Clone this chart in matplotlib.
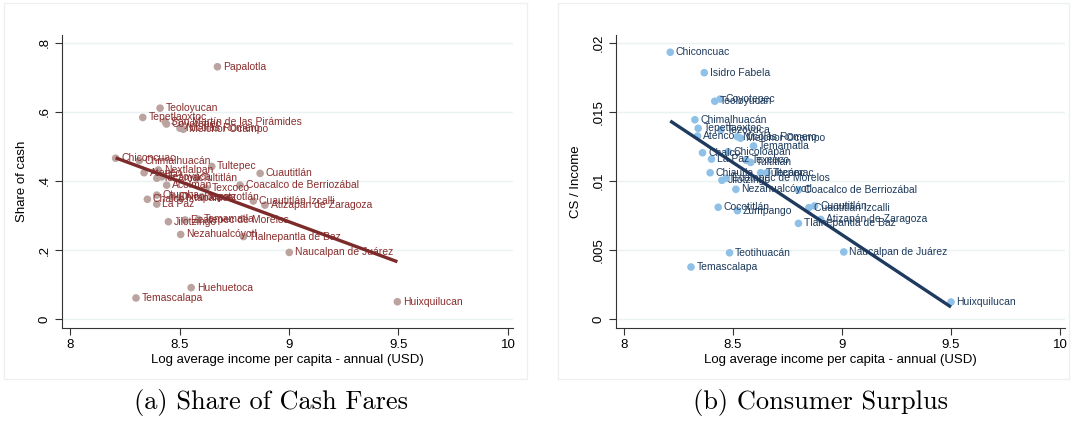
import matplotlib.pyplot as plt
from matplotlib.patches import Rectangle

plt.rcParams['font.family'] = ['Liberation Sans', 'DejaVu Sans']

# panel (a): share of cash fares
names_a = ["Papalotla", "Teoloyucan", "Tepetlaoxtoc", "San Martín de las Pirámides",
           "Coyotepec", "Nicolás Romero", "Melchor Ocampo", "Chiconcuac", "Chimalhuacán",
           "Atenco", "Nextlalpan", "Tezoyuca", "Tultepec", "Cuautitlán", "Tecámac",
           "Tultitlán", "Acolman", "Coacalco de Berriozábal", "Texcoco", "Otumba",
           "Chicoloapan", "Ixtapaluca", "Tepotzotlán", "Cuautitlán Izcalli", "Chalco",
           "La Paz", "Atizapán de Zaragoza", "Jilotzingo", "Ecatepec de Morelos",
           "Temamatla", "Nezahualcóyotl", "Tlalnepantla de Baz", "Naucalpan de Juárez",
           "Huehuetoca", "Temascalapa", "Huixquilucan"]
income_a = [8.673, 8.411, 8.332, 8.434, 8.44, 8.502, 8.517, 8.208, 8.316,
            8.338, 8.403, 8.419, 8.647, 8.868, 8.396,
            8.578, 8.441, 8.776, 8.621, 8.396,
            8.47, 8.502, 8.601, 8.837, 8.353,
            8.396, 8.890, 8.449, 8.525,
            8.586, 8.505, 8.792, 9.001,
            8.553, 8.301, 9.495]
cash_a = [0.731, 0.611, 0.584, 0.572, 0.565, 0.553, 0.550, 0.466, 0.459,
          0.424, 0.432, 0.412, 0.442, 0.422, 0.408,
          0.408, 0.388, 0.388, 0.379, 0.359,
          0.354, 0.351, 0.354, 0.342, 0.347,
          0.333, 0.330, 0.282, 0.287,
          0.289, 0.245, 0.239, 0.193,
          0.091, 0.061, 0.050]
fit_x_a = [8.208, 9.495]
fit_y_a = [0.467, 0.166]

# panel (b): consumer surplus over income
names_b = ["Chiconcuac", "Isidro Fabela", "Coyotepec", "Teoloyucan", "Chimalhuacán",
           "Tepetlaoxtoc", "Tezoyuca", "Atenco", "Nicolás Romero", "Melchor Ocampo",
           "Temamatla", "Chalco", "Chicoloapan", "La Paz", "Texcoco", "Tultitlán",
           "Chiautla", "Tultepec", "Tecámac", "Jilotzingo", "Ecatepec de Morelos",
           "Nezahualcóyotl", "Coacalco de Berriozábal", "Cocotitlán", "Zumpango",
           "Cuautitlán", "Cuautitlán Izcalli", "Atizapán de Zaragoza",
           "Tlalnepantla de Baz", "Teotihuacán", "Naucalpan de Juárez", "Temascalapa",
           "Huixquilucan"]
income_b = [8.212, 8.368, 8.441, 8.416, 8.325,
            8.34, 8.444, 8.337, 8.52, 8.535,
            8.594, 8.36, 8.477, 8.401, 8.56, 8.581,
            8.395, 8.627, 8.655, 8.449, 8.47,
            8.513, 8.80, 8.432, 8.52,
            8.874, 8.848, 8.902,
            8.80, 8.484, 9.008, 8.307,
            9.50]
cs_b = [0.01933, 0.01785, 0.01594, 0.01578, 0.01444,
        0.01382, 0.0137, 0.01326, 0.01321, 0.0131,
        0.01254, 0.01205, 0.01212, 0.01159, 0.0115, 0.01135,
        0.0106, 0.0106, 0.0106, 0.01005, 0.0102,
        0.0094, 0.00935, 0.0081, 0.00785,
        0.00819, 0.00807, 0.00722,
        0.00693, 0.0048, 0.00486, 0.00377,
        0.00123]
fit_x_b = [8.212, 9.50]
fit_y_b = [0.01435, 0.00087]

x_ticks = [8, 8.5, 9, 9.5, 10]
x_ticklabels = ["8", "8.5", "9", "9.5", "10"]
y_ticks_a = [0, 0.2, 0.4, 0.6, 0.8]
y_ticklabels_a = ["0", ".2", ".4", ".6", ".8"]
y_ticks_b = [0, 0.005, 0.01, 0.015, 0.02]
y_ticklabels_b = ["0", ".005", ".01", ".015", ".02"]

W, H = 1073, 421
fig = plt.figure(figsize=(W / 100, H / 100), dpi=100)

# stata-like graph region boxes
for x0, x1 in [(4, 527), (558, 1069)]:
    fig.add_artist(Rectangle((x0 / W, 1 - 379 / H), (x1 - x0) / W, 376 / H,
                             transform=fig.transFigure, fill=False,
                             edgecolor='#eef0f0', linewidth=1.0))


def panel(rect, names, xs, ys, fx, fy, mcol, tcol, lcol, ylim, yticks, yticklabels, ylabel):
    ax = fig.add_axes(rect)
    ax.set_xlim(7.963, 10.023)
    ax.set_ylim(*ylim)
    for s in ['top', 'right']:
        ax.spines[s].set_visible(False)
    for s in ['left', 'bottom']:
        ax.spines[s].set_color('#333333')
        ax.spines[s].set_linewidth(0.8)
    ax.set_xticks(x_ticks)
    ax.set_xticklabels(x_ticklabels)
    ax.set_yticks(yticks)
    ax.set_yticklabels(yticklabels, rotation=90, va='center')
    ax.tick_params(length=5, width=0.8, color='#333333', labelsize=9.5, pad=3)
    ax.grid(axis='y', color='#eaf2f3', linewidth=1.0)
    ax.set_axisbelow(True)
    ax.scatter(xs, ys, s=30, color=mcol, edgecolors='none', zorder=3)
    for n, x, y in zip(names, xs, ys):
        ax.annotate(n, (x, y), xytext=(4, 0), textcoords='offset points',
                    va='center', ha='left', fontsize=7.5, color=tcol, zorder=4)
    ax.plot(fx, fy, color=lcol, linewidth=2.4, zorder=5, solid_capstyle='butt')
    ax.set_xlabel("Log average income per capita - annual (USD)", fontsize=9.5, labelpad=2)
    ax.set_ylabel(ylabel, fontsize=9.5, labelpad=8)
    return ax


panel([62 / W, 1 - 328 / H, 451 / W, 293 / H], names_a, income_a, cash_a,
      fit_x_a, fit_y_a, '#bba39f', '#8a2d2d', '#7d2a2a',
      (-0.026, 0.823), y_ticks_a, y_ticklabels_a, "Share of cash")
panel([616 / W, 1 - 328 / H, 449 / W, 293 / H], names_b, income_b, cs_b,
      fit_x_b, fit_y_b, '#8fc1e8', '#1d3a5c', '#1f3a5f',
      (-0.00065, 0.02058), y_ticks_b, y_ticklabels_b, "CS / Income")

fig.text(271 / W, 1 - 402 / H, "(a) Share of Cash Fares", family='cmr10',
         fontsize=19, ha='center', va='center')
fig.text(820 / W, 1 - 402 / H, "(b) Consumer Surplus", family='cmr10',
         fontsize=19, ha='center', va='center')

fig.savefig("out.png", dpi=100)
